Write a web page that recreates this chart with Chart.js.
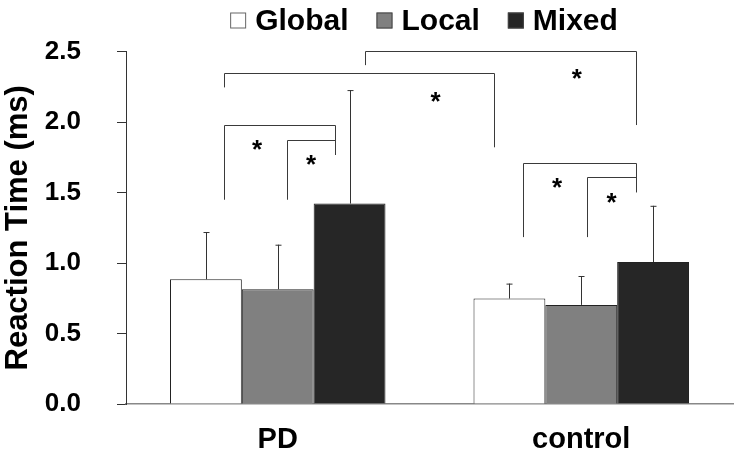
<!DOCTYPE html>
<html>
<head>
<meta charset="utf-8">
<script src="https://cdn.jsdelivr.net/npm/chart.js@4/dist/chart.umd.min.js"></script>
<style>
  html, body { margin: 0; padding: 0; background: #fff; }
  #wrap { width: 741px; height: 460px; }
</style>
</head>
<body>
<div id="wrap"><canvas id="rtChart"></canvas></div>
<script>
// data
const groups = ['PD', 'control'];
const conditions = ['Global', 'Local', 'Mixed'];
const globalMean = [0.885, 0.748];
const localMean = [0.814, 0.703];
const mixedMean = [1.422, 1.007];
const globalSd = [0.335, 0.106];
const localSd = [0.316, 0.205];
const mixedSd = [0.805, 0.399];
const yTicks = [0, 0.5, 1.0, 1.5, 2.0, 2.5];

// significance brackets, x in category units, y in seconds
const bracketX1 = [-0.178, 0.288, -0.178, 0.029, 0.809, 1.018];
const bracketX2 = [0.711, 1.179, 0.190, 0.190, 1.179, 1.179];
const bracketTop = [2.347, 2.505, 1.977, 1.873, 1.711, 1.609];
const bracketLeftEnd = [2.246, 2.404, 1.449, 1.449, 1.184, 1.184];
const bracketRightEnd = [1.821, 1.979, 1.767, 1.767, 1.502, 1.502];
const starX = [0.520, 0.985, -0.068, 0.110, 0.920, 1.100];
const starY = [2.187, 2.347, 1.845, 1.737, 1.573, 1.472];

const FONT = "'Liberation Sans', Arial, sans-serif";
const fills = ['#ffffff', '#808080', '#262626'];
const means = [globalMean, localMean, mixedMean];
const sds = [globalSd, localSd, mixedSd];

// error bars (upper half only) + brackets with stars
const annotations = {
  id: 'annotations',
  afterDatasetsDraw(chart) {
    const ctx = chart.ctx;
    const xs = chart.scales.x, ys = chart.scales.y;
    ctx.save();
    ctx.lineWidth = 1;
    ctx.strokeStyle = '#333';
    means.forEach((m, di) => {
      const meta = chart.getDatasetMeta(di);
      meta.data.forEach((bar, i) => {
        const top = ys.getPixelForValue(m[i] + sds[di][i]);
        const x = Math.round(bar.x) + 0.5;
        ctx.beginPath();
        ctx.moveTo(x, bar.y);
        ctx.lineTo(x, top);
        ctx.moveTo(x - 3, top + 0.5);
        ctx.lineTo(x + 3, top + 0.5);
        ctx.stroke();
      });
    });
    ctx.strokeStyle = '#3a3a3a';
    bracketX1.forEach((x1, i) => {
      const px1 = Math.round(xs.getPixelForValue(x1)) + 0.5;
      const px2 = Math.round(xs.getPixelForValue(bracketX2[i])) + 0.5;
      const pt = Math.round(ys.getPixelForValue(bracketTop[i])) + 0.5;
      ctx.beginPath();
      ctx.moveTo(px1, ys.getPixelForValue(bracketLeftEnd[i]));
      ctx.lineTo(px1, pt);
      ctx.lineTo(px2, pt);
      ctx.lineTo(px2, ys.getPixelForValue(bracketRightEnd[i]));
      ctx.stroke();
    });
    ctx.fillStyle = '#000';
    ctx.font = 'bold 26px ' + FONT;
    ctx.textAlign = 'center';
    ctx.textBaseline = 'alphabetic';
    starX.forEach((sx, i) => {
      ctx.fillText('*', xs.getPixelForValue(sx), ys.getPixelForValue(starY[i]) + 14);
    });
    ctx.restore();
  }
};

// legend drawn by hand: square, short gap, label (Chart.js legend gap is too wide)
const topLegend = {
  id: 'topLegend',
  afterDraw(chart) {
    const ctx = chart.ctx;
    const sets = chart.data.datasets;
    const box = 16, gap = 9, spacing = 28;
    ctx.save();
    ctx.font = 'bold 30px ' + FONT;
    const widths = sets.map(d => box + gap + ctx.measureText(d.label).width);
    const total = widths.reduce((a, b) => a + b, 0) + spacing * (sets.length - 1);
    let x = 424 - total / 2;
    ctx.textBaseline = 'alphabetic';
    ctx.textAlign = 'left';
    sets.forEach((d, i) => {
      ctx.fillStyle = d.backgroundColor;
      ctx.fillRect(x, 12.5, box, box);
      ctx.strokeStyle = i === 0 ? '#666' : '#444';
      ctx.lineWidth = 1;
      ctx.strokeRect(x + 0.5, 13, box - 1, box - 1);
      ctx.fillStyle = '#000';
      ctx.fillText(d.label, x + box + gap, 29.5);
      x += widths[i] + spacing;
    });
    ctx.restore();
  }
};

new Chart(document.getElementById('rtChart'), {
  type: 'bar',
  data: {
    labels: groups,
    datasets: conditions.map((c, i) => ({
      label: c,
      data: means[i],
      backgroundColor: fills[i],
      borderColor: '#222',
      borderWidth: 1,
      categoryPercentage: 0.71,
      barPercentage: 1.0,
    })),
  },
  options: {
    responsive: true, maintainAspectRatio: false, animation: false,
    layout: { padding: { left: 0, right: 8, top: 50, bottom: 0 } },
    plugins: {
      tooltip: { enabled: false },
      legend: { display: false },
    },
    scales: {
      x: {
        grid: { display: false, drawTicks: false },
        border: { color: '#888', width: 1.5 },
        ticks: { color: '#000', padding: 19, font: { family: FONT, size: 29, weight: 'bold' } },
        afterFit(scale) { scale.height = 56; },
      },
      y: {
        min: 0, max: 2.5,
        afterBuildTicks(scale) { scale.ticks = yTicks.map(v => ({ value: v })); },
        grid: { drawOnChartArea: false, drawTicks: true, tickLength: 9, color: '#333' },
        border: { color: '#333', width: 1 },
        ticks: { color: '#000', padding: 36, callback: v => v.toFixed(1), font: { family: FONT, size: 26, weight: 'bold' } },
        title: { display: true, text: 'Reaction Time (ms)', color: '#000', padding: 0, font: { family: FONT, size: 31, weight: 'bold' } },
        afterFit(scale) { scale.width = 126; },
      },
    },
  },
  plugins: [annotations, topLegend],
});
</script>
</body>
</html>
